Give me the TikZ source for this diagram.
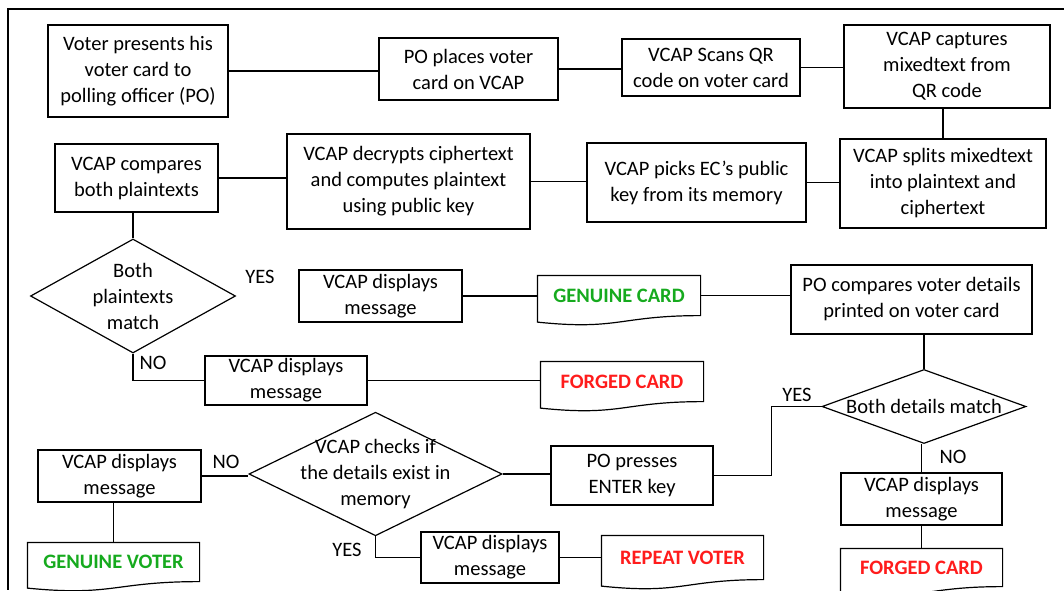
\documentclass[tikz,border=0pt]{standalone}
\usepackage{fontspec}
\setmainfont{Carlito}
\usetikzlibrary{shapes.geometric}
\definecolor{okgreen}{RGB}{22,170,30}
\definecolor{badred}{RGB}{255,28,28}

\begin{document}
\begin{tikzpicture}[x=1pt,y=-1pt,line width=1.2pt,font=\fontsize{20.5}{26}\selectfont,
  stepbox/.style={draw,rectangle,align=center,inner sep=0pt},
  decision/.style={draw,diamond,align=center,inner sep=-24pt},
  docbox/.style={rectangle,inner sep=0pt,font=\fontsize{20.5}{26}\selectfont\bfseries}]
\useasboundingbox (0,0) rectangle (1064,590);
\draw (1064,9) -- (8,9) -- (8,590);
\node[stepbox,minimum width=180,minimum height=92] (voter) at (138,71) {Voter presents his\\voter card to\\polling officer (PO)};
\node[stepbox,minimum width=179,minimum height=62] (place) at (468.5,69) {PO places voter\\card on VCAP};
\node[stepbox,minimum width=178,minimum height=57] (scan) at (711,67.5) {VCAP Scans QR\\code on voter card};
\node[stepbox,minimum width=206,minimum height=83] (capture) at (947,66.5) {VCAP captures\\mixedtext from\\QR code};
\node[stepbox,minimum width=206,minimum height=89] (split) at (943,183.5) {VCAP splits mixedtext\\into plaintext and\\ciphertext};
\node[stepbox,minimum width=219,minimum height=79] (picks) at (696.5,182.5) {VCAP picks EC’s public\\key from its memory};
\node[stepbox,minimum width=243,minimum height=95] (decrypt) at (408.5,181.5) {VCAP decrypts ciphertext\\and computes plaintext\\using public key};
\node[stepbox,minimum width=163,minimum height=68] (compare) at (136.5,178) {VCAP compares\\both plaintexts};
\node[decision,minimum width=205,minimum height=114] (d1) at (133,296) {Both\\plaintexts\\match};
\node[stepbox,minimum width=163,minimum height=52] (show1) at (380.5,296) {VCAP displays\\message};
\node[docbox,text=okgreen,minimum width=162,minimum height=39] (gcard) at (619,295.5) {GENUINE CARD};
\node[stepbox,minimum width=241,minimum height=69] (pocmp) at (911.5,299.5) {PO compares voter details\\printed on voter card};
\node[stepbox,minimum width=162,minimum height=49] (show2) at (286,380.5) {VCAP displays\\message};
\node[docbox,text=badred,minimum width=162,minimum height=39] (fcard) at (622,381.5) {FORGED CARD};
\node[decision,minimum width=204,minimum height=73] (d2) at (924,406.5) {Both details match};
\node[decision,minimum width=253,minimum height=116] (d3) at (375.5,474) {VCAP checks if\\the details exist in\\memory};
\node[stepbox,minimum width=163,minimum height=52] (show3) at (119.5,476) {VCAP displays\\message};
\node[stepbox,minimum width=162,minimum height=59] (popress) at (632,475.5) {PO presses\\ENTER key};
\node[stepbox,minimum width=161,minimum height=52] (show4) at (921.5,499) {VCAP displays\\message};
\node[docbox,text=okgreen,minimum width=171,minimum height=38] (gvoter) at (113.5,562) {GENUINE VOTER};
\node[stepbox,minimum width=138,minimum height=51] (show5) at (490,557.5) {VCAP displays\\message};
\node[docbox,text=badred,minimum width=161,minimum height=43] (rvoter) at (682.5,557.5) {REPEAT VOTER};
\node[docbox,text=badred,minimum width=161,minimum height=37] (fcard2) at (921.5,567.5) {FORGED CARD};
\foreach \d in {gcard,fcard,gvoter,rvoter,fcard2}
  \draw ([yshift=-6.5pt]\d.south west) -- (\d.north west) -- (\d.north east) -- (\d.south east)
    .. controls (\d.south) and ([yshift=-15pt]\d.south) .. ([yshift=-6.5pt]\d.south west) -- cycle;
\foreach \a/\b in {voter/place,place/scan,scan/capture,picks/split,decrypt/picks,compare/decrypt,
  show1/gcard,gcard/pocmp,show2/fcard,d3/popress,show3/d3,show5/rvoter}
  \draw (\a.east) -- (\a.east -| \b.west);
\draw (split.north) -- (split.north |- capture.south);
\draw (d1.north) -- (d1.north |- compare.south);
\draw (d2.north) -- (d2.north |- pocmp.south);
\draw (show4.north) -- (show4.north |- d2.south);
\draw (show4.south) -- (fcard2.north);
\draw (gvoter.north) -- (gvoter.north |- show3.south);
\draw (d1.south) |- (show2.west);
\draw (d3.south) |- (show5.west);
\draw (d2.west) -- ++(-50,0) |- (popress.east);
\node (yes1) at (260,277) {YES};
\node (no1) at (153,363) {NO};
\node (yes2) at (797,395) {YES};
\node (no2) at (953,457) {NO};
\node (no3) at (226,462) {NO};
\node (yes3) at (347,550) {YES};
\end{tikzpicture}
\end{document}
